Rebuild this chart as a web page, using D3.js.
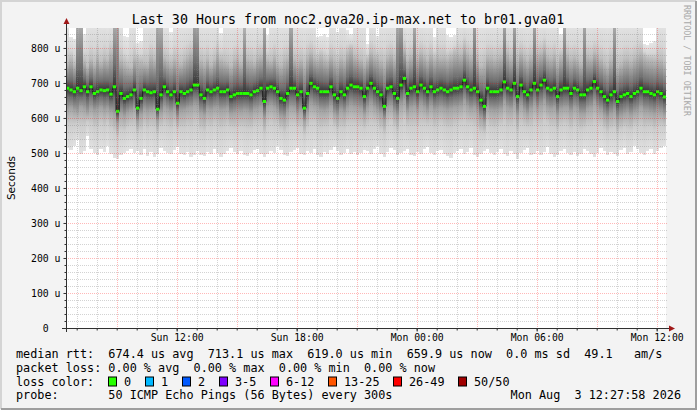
<!DOCTYPE html>
<html>
<head>
<meta charset="utf-8">
<script src="https://d3js.org/d3.v7.min.js"></script>
<style>
body { margin: 0; background: #f3f3f3; }
svg { display: block; }
svg text { font-family: "DejaVu Sans Mono", monospace; }
.pre { white-space: pre; }
</style>
</head>
<body>
<svg id="chart" width="697" height="410"></svg>
<script>
// ---- data (values in microseconds) ----
var startTime = Date.UTC(2026, 7, 2, 6, 27, 58);
var endTime = Date.UTC(2026, 7, 3, 12, 27, 58);
var stepSec = 600;

var medianRtt = [
  685,680,675,685,678,689,675,689,670,675, 680,678,680,668,689,619,670,656,661,666,
  680,628,656,680,675,672,675,625,666,689, 675,666,675,642,675,670,675,680,694,694,
  666,656,680,675,680,685,675,675,680,661, 666,670,670,670,670,666,675,678,685,647,
  685,689,685,675,656,651,670,685,685,666, 675,628,670,699,689,685,675,675,675,689,
  666,656,675,666,685,694,689,689,685,661,
  685,699,685,675,666,633,685,689,670,656, 694,713,670,685,689,675,694,685,675,689,
  675,680,685,680,675,680,685,685,689,708, 689,680,685,675,651,633,685,675,675,675,
  680,703,685,680,699,661,694,675,666,680, 699,680,694,708,685,680,685,661,680,685,
  685,670,685,680,666,666,680,685,704,685, 675,661,651,666,675,647,661,666,670,661,
  670,675,685,675,675,670,666,675,670,660
];
// lowest ping of each step (bottom edge of the smoke)
var smokeLo = [
  515,508,520,536,498,505,548,512,500,495, 510,503,520,498,485,482,495,500,507,512,
  499,505,495,510,492,503,488,496,515,505, 500,497,509,518,498,494,502,488,495,506,
  493,490,504,498,510,500,489,496,505,513, 502,498,507,494,490,501,509,512,497,488,
  496,505,499,520,508,494,490,503,509,515, 498,493,506,500,512,495,489,502,497,508,
  518,505,494,501,510,497,503,495,500,508,
  505,498,510,520,496,488,502,515,508,493, 499,506,512,495,490,503,497,510,518,500,
  494,505,509,498,492,486,500,507,511,496, 502,515,495,488,497,506,510,499,493,504,
  512,498,490,505,496,483,500,509,514,495, 498,507,493,502,516,498,489,495,506,511,
  500,494,503,492,498,510,505,496,488,500, 513,507,495,502,498,490,508,515,497,503,
  520,510,500,495,505,512,498,506,515,520
];
// lower quintile of the pings
var smokeQ1 = [
  625,630,622,618,632,626,615,628,620,624, 630,622,627,618,610,585,612,605,615,620,
  628,590,610,624,618,622,626,592,615,630, 624,618,625,600,620,622,627,630,638,636,
  615,608,625,622,628,630,622,624,628,612, 615,620,618,622,620,614,624,626,630,598,
  632,636,630,622,605,600,618,630,628,612, 620,590,615,640,634,630,622,620,624,634,
  612,605,622,615,628,636,632,630,626,610,
  628,640,630,622,612,595,630,634,616,605, 638,648,618,630,634,622,638,630,620,634,
  622,626,630,626,622,626,630,630,634,648, 634,626,630,620,600,588,630,622,620,622,
  626,646,630,626,640,608,636,622,612,626, 640,626,636,648,630,626,630,608,626,630,
  630,618,630,626,612,612,626,630,644,630, 622,608,600,612,620,595,606,612,616,608,
  616,620,630,620,620,616,612,620,616,608
];
// upper quintile of the pings
var smokeQ3 = [
  760,772,755,880,900,765,750,770,758,780, 762,775,768,790,900,910,770,760,752,748,
  775,770,765,760,758,780,770,900,890,775, 768,760,772,765,758,770,780,790,920,905,
  768,760,772,755,768,790,770,765,760,752, 770,775,760,880,772,768,760,775,780,910,
  770,765,780,760,755,770,775,900,770,762, 770,758,780,790,776,768,780,770,765,780,
  770,760,775,768,790,800,780,775,770,760,
  770,790,780,775,768,760,778,785,772,900, 920,800,770,780,895,775,790,780,770,785,
  772,780,776,778,772,780,790,790,785,808, 790,780,930,770,752,760,780,778,772,775,
  780,910,790,775,905,770,790,778,768,780, 910,785,790,805,780,775,785,760,780,900,
  785,772,778,770,760,910,780,776,790,785, 772,760,752,770,900,748,758,770,772,765,
  775,782,790,778,772,770,768,772,770,760
];
// highest ping of each step (top edge of the smoke, often above the graph)
var smokeHi = [
  880,830,825,940,950,840,880,880,885,880, 880,880,875,880,950,960,880,835,830,880,
  880,815,820,880,880,880,880,950,950,880, 880,845,880,880,880,880,880,880,960,960,
  880,880,880,880,880,880,842,880,880,880, 880,880,880,940,880,880,880,880,880,960,
  838,880,880,880,880,880,880,950,880,880, 880,880,880,880,880,832,835,840,830,880,
  880,845,880,880,850,840,880,880,880,880,
  810,880,880,835,880,880,880,880,880,950, 960,880,880,880,950,880,880,880,880,880,
  830,880,880,880,836,832,838,880,880,880, 880,880,970,880,880,880,880,880,880,880,
  880,960,880,880,960,880,880,880,880,880, 960,880,880,880,880,880,880,880,840,950,
  880,880,880,880,880,960,880,880,880,880, 880,880,880,880,950,880,880,880,880,880,
  880,880,880,812,808,815,820,880,880,880
];

var rttValues = [674.4, 713.1, 619.0, 659.9];
var lossValues = [0.00, 0.00, 0.00, 0.00];
var statNames = ["avg", "max", "min", "now"];
var rttSd = 0.0;
var rttAmS = 49.1;
var lossLabels = ["0", "1", "2", "3-5", "6-12", "13-25", "26-49", "50/50"];
var lossColors = ["#26ff00", "#00b8ff", "#0059ff", "#7e00ff", "#ff00ff", "#ff5500", "#ff0000", "#a10000"];
var yMajor = [0, 100, 200, 300, 400, 500, 600, 700, 800];
var yMax = 857;
var probeText = "50 ICMP Echo Pings (56 Bytes) every 300s";
var titleText = "Last 30 Hours from noc2.gva20.ip-max.net to br01.gva01";

// ---- layout ----
var W = 697, H = 410;
var pLeft = 66, pRight = 666, pTop = 28, pBottom = 328;
var charW = 7.1;

var svg = d3.select("#chart");

// frame
svg.append("rect").attr("width", W).attr("height", H).attr("fill", "#f3f3f3");
svg.append("path").attr("d", "M1,409V1H696").attr("fill", "none").attr("stroke", "#d4d4d4").attr("stroke-width", 2);
svg.append("path").attr("d", "M1,409H696V1").attr("fill", "none").attr("stroke", "#9e9e9e").attr("stroke-width", 2);

svg.append("rect").attr("x", pLeft).attr("y", pTop)
  .attr("width", pRight - pLeft).attr("height", pBottom - pTop).attr("fill", "#fff");

var x = d3.scaleUtc().domain([startTime, endTime]).range([pLeft, pRight]);
var y = d3.scaleLinear().domain([0, yMax]).range([pBottom, pTop]);

// gradients for the smoke
var defs = svg.append("defs");
defs.append("clipPath").attr("id", "plot")
  .append("rect").attr("x", pLeft).attr("y", pTop).attr("width", pRight - pLeft).attr("height", pBottom - pTop);

function grad(id, stops) {
  var g = defs.append("linearGradient").attr("id", id)
    .attr("x1", 0).attr("y1", 1).attr("x2", 0).attr("y2", 0);
  stops.forEach(function(s) {
    g.append("stop").attr("offset", s[0]).attr("stop-color", s[1]);
  });
}
grad("gLo", [[0, "#e2e2e2"], [0.6, "#cdcdcd"], [1, "#a2a2a2"]]);
grad("gLoIn", [[0, "#a2a2a2"], [0.6, "#6c6c6c"], [1, "#343434"]]);
grad("gHiIn", [[0, "#343434"], [0.3, "#6e6e6e"], [1, "#bebebe"]]);
grad("gHi", [[0, "#bebebe"], [0.35, "#d6d6d6"], [1, "#e6e6e6"]]);

function colTime(i) { return startTime + i * stepSec * 1000; }

var smoke = svg.append("g").attr("clip-path", "url(#plot)").attr("shape-rendering", "crispEdges");
var bands = [
  ["gLo", smokeLo, smokeQ1],
  ["gLoIn", smokeQ1, medianRtt],
  ["gHiIn", medianRtt, smokeQ3],
  ["gHi", smokeQ3, smokeHi]
];
bands.forEach(function(b) {
  smoke.append("g").selectAll("rect")
    .data(medianRtt)
    .enter().append("rect")
      .attr("x", function(d, i) { return x(colTime(i)); })
      .attr("width", function(d, i) { return x(colTime(i + 1)) - x(colTime(i)); })
      .attr("y", function(d, i) { return y(b[2][i]); })
      .attr("height", function(d, i) { return Math.max(0, y(b[1][i]) - y(b[2][i])); })
      .attr("fill", "url(#" + b[0] + ")");
});

// median: dark step connectors with green marks on each step
var pts = medianRtt.map(function(d, i) { return [x(colTime(i)), y(d)]; });
pts.push([x(endTime), y(medianRtt[medianRtt.length - 1])]);
svg.append("path")
  .attr("d", d3.line().curve(d3.curveStepAfter)(pts))
  .attr("fill", "none").attr("stroke", "#1c1c1c").attr("stroke-width", 1)
  .attr("clip-path", "url(#plot)");
svg.append("g").selectAll("rect")
  .data(medianRtt)
  .enter().append("rect")
    .attr("x", function(d, i) { return x(colTime(i)); })
    .attr("width", function(d, i) { return x(colTime(i + 1)) - x(colTime(i)); })
    .attr("y", function(d) { return y(d) - 1.5; })
    .attr("height", 3)
    .attr("fill", lossColors[0]);

// grid (drawn over the smoke like rrdtool does)
var grid = svg.append("g").attr("shape-rendering", "crispEdges");
var minorStroke = "rgba(130,130,130,0.35)", majorStroke = "rgba(255,0,0,0.28)";
var yMinor = d3.range(20, yMax, 20).filter(function(v) { return v % 100 !== 0; });
grid.selectAll(".hmin").data(yMinor).enter().append("line")
  .attr("x1", pLeft).attr("x2", pRight + 1)
  .attr("y1", function(d) { return Math.round(y(d)) + 0.5; })
  .attr("y2", function(d) { return Math.round(y(d)) + 0.5; })
  .attr("stroke", minorStroke).attr("stroke-dasharray", "1,1");
var xMinor = x.ticks(d3.utcHour.every(1)).filter(function(t) { return t.getUTCHours() % 3 !== 0; });
grid.selectAll(".vmin").data(xMinor).enter().append("line")
  .attr("x1", function(d) { return Math.round(x(d)) + 0.5; })
  .attr("x2", function(d) { return Math.round(x(d)) + 0.5; })
  .attr("y1", pTop).attr("y2", pBottom)
  .attr("stroke", minorStroke).attr("stroke-dasharray", "1,1");
grid.selectAll(".hmaj").data(yMajor.slice(1)).enter().append("line")
  .attr("x1", pLeft).attr("x2", pRight + 1)
  .attr("y1", function(d) { return Math.round(y(d)) + 0.5; })
  .attr("y2", function(d) { return Math.round(y(d)) + 0.5; })
  .attr("stroke", majorStroke).attr("stroke-dasharray", "1,1");
var xMajor = x.ticks(d3.utcHour.every(3));
grid.selectAll(".vmaj").data(xMajor).enter().append("line")
  .attr("x1", function(d) { return Math.round(x(d)) + 0.5; })
  .attr("x2", function(d) { return Math.round(x(d)) + 0.5; })
  .attr("y1", pTop).attr("y2", pBottom)
  .attr("stroke", majorStroke).attr("stroke-dasharray", "1,1");

// axes
function styleAxis(g) {
  g.select(".domain").remove();
  g.selectAll("line").attr("stroke", "#303030");
  g.selectAll("text").attr("font-family", "DejaVu Sans Mono").attr("font-size", 9.8).attr("fill", "#000");
}
svg.append("g").attr("transform", "translate(" + (pLeft + 0.5) + ",0)")
  .call(d3.axisLeft(y).tickValues(yMinor).tickSize(2).tickFormat(""))
  .call(styleAxis);
var yAxis = svg.append("g").attr("transform", "translate(" + (pLeft + 0.5) + ",0)")
  .call(d3.axisLeft(y).tickValues(yMajor).tickSize(3).tickPadding(3)
    .tickFormat(function(d) { return d === 0 ? "0" : d + " u"; }))
  .call(styleAxis);
yAxis.selectAll("text").filter(function(d) { return d === 0; }).attr("dx", -2 * 5.9);

svg.append("g").attr("transform", "translate(0," + (pBottom + 0.5) + ")")
  .call(d3.axisBottom(x).ticks(d3.utcHour.every(1)).tickSize(2).tickFormat(""))
  .call(styleAxis);
svg.append("g").attr("transform", "translate(0," + (pBottom + 0.5) + ")")
  .call(d3.axisBottom(x).ticks(d3.utcHour.every(6)).tickSize(3).tickPadding(3)
    .tickFormat(d3.utcFormat("%a %H:%M")))
  .call(styleAxis);

// axis lines with arrows
svg.append("line").attr("x1", pLeft + 0.5).attr("x2", pLeft + 0.5).attr("y1", pBottom + 4).attr("y2", 23)
  .attr("stroke", "#303030");
svg.append("line").attr("x1", pLeft - 4).attr("x2", 670).attr("y1", pBottom + 0.5).attr("y2", pBottom + 0.5)
  .attr("stroke", "#303030");
svg.append("path").attr("d", "M" + (pLeft + 0.5) + ",18L" + (pLeft + 3.5) + ",24L" + (pLeft - 2.5) + ",24Z")
  .attr("fill", "#a01818");
svg.append("path").attr("d", "M675," + (pBottom + 0.5) + "L669," + (pBottom - 2.5) + "L669," + (pBottom + 3.5) + "Z")
  .attr("fill", "#a01818");

// title, vertical label, watermark
svg.append("text").attr("x", 348).attr("y", 24).attr("text-anchor", "middle")
  .attr("font-size", 13.3).attr("fill", "#000").text(titleText);
svg.append("text").attr("transform", "translate(15," + ((pTop + pBottom) / 2) + ") rotate(-90)")
  .attr("text-anchor", "middle").attr("font-size", 10.5)
  .style("font-family", "DejaVu Sans").attr("fill", "#000").text("Seconds");
svg.append("text").attr("transform", "translate(684,5) rotate(90)")
  .attr("font-size", 8.4).attr("fill", "#a8a8a8").text("RRDTOOL / TOBI OETIKER");

// legend
var lx = 16;
var lineY = [358, 371.7, 385.5, 399.3];
function pad(s, n) { while (s.length < n) s += " "; return s; }
var rttLine = pad("median rtt:", 13) +
  rttValues.map(function(v, i) { return v.toFixed(1) + " us " + statNames[i]; }).join("  ") +
  "  " + rttSd.toFixed(1) + " ms sd  " + rttAmS.toFixed(1) + "   am/s";
var lossLine = pad("packet loss:", 13) +
  lossValues.map(function(v, i) { return v.toFixed(2) + " % " + statNames[i]; }).join("  ");
var legend = svg.append("g").attr("font-size", 11.8).attr("fill", "#000");
legend.append("text").attr("class", "pre").attr("xml:space", "preserve")
  .attr("x", lx).attr("y", lineY[0]).text(rttLine);
legend.append("text").attr("class", "pre").attr("xml:space", "preserve")
  .attr("x", lx).attr("y", lineY[1]).text(lossLine);
legend.append("text").attr("x", lx).attr("y", lineY[2]).text("loss color:");
var bx = 108;
lossLabels.forEach(function(lab, i) {
  legend.append("rect").attr("x", Math.round(bx) + 0.5).attr("y", lineY[2] - 8.5)
    .attr("width", 8).attr("height", 9)
    .attr("fill", lossColors[i]).attr("stroke", "#000").attr("stroke-width", 1);
  legend.append("text").attr("x", bx + 16).attr("y", lineY[2]).text(lab);
  bx += 16 + lab.length * 7 + 14;
});
legend.append("text").attr("class", "pre").attr("xml:space", "preserve")
  .attr("x", lx).attr("y", lineY[3]).text(pad("probe:", 13) + probeText);
legend.append("text").attr("class", "pre").attr("xml:space", "preserve")
  .attr("x", 681).attr("y", lineY[3]).attr("text-anchor", "end")
  .text(d3.utcFormat("%a %b %e %H:%M:%S %Y")(new Date(endTime)));
</script>
</body>
</html>
